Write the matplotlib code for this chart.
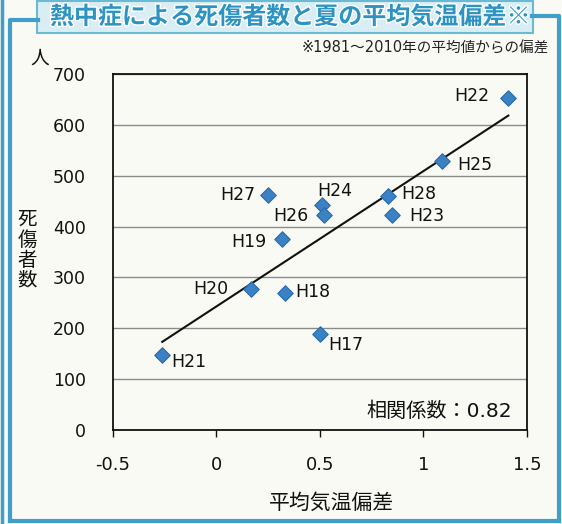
import matplotlib
matplotlib.use("Agg")
import matplotlib.pyplot as plt
from matplotlib.patches import Rectangle
import matplotlib.patheffects as pe
import numpy as np

plt.rcParams['font.family'] = ['DejaVu Sans', 'Noto Sans CJK JP']

# Data
years = ["H17", "H18", "H19", "H20", "H21", "H22", "H23", "H24", "H25", "H26", "H27", "H28"]
temp_dev = [0.50, 0.33, 0.32, 0.17, -0.26, 1.41, 0.85, 0.51, 1.09, 0.52, 0.25, 0.83]
casualties = [188, 269, 376, 277, 147, 653, 422, 443, 528, 422, 462, 461]
x_ticks = [-0.5, 0, 0.5, 1, 1.5]
x_tick_labels = ["-0.5", "0", "0.5", "1", "1.5"]
y_ticks = [0, 100, 200, 300, 400, 500, 600, 700]
corr_text = "相関係数：0.82"
title = "熱中症による死傷者数と夏の平均気温偏差※"
note = "※1981～2010年の平均値からの偏差"
# label offsets (points) for each year label
offsets = {"H17": (6, -8), "H18": (8, 1), "H19": (-37, -2.4), "H20": (-42, 0),
           "H21": (6.7, -5), "H22": (-39, 1.2), "H23": (12.5, -0.7), "H24": (-3, 9.6),
           "H25": (10.8, -2.4), "H26": (-36.5, -0.7), "H27": (-34, 0), "H28": (9.4, 1)}

W, H = 562, 524
fig = plt.figure(figsize=(W/100, H/100), dpi=100)
bg = '#fafaf5'
fig.patch.set_facecolor(bg)

def fx(px):
    return px / W
def fy(py):
    return 1 - py / H

# outer frame lines
teal = '#3f9fc8'
fig.add_artist(plt.Line2D([fx(1.5), fx(1.5)], [fy(0), fy(524)], color=teal, lw=2.5))
fig.add_artist(plt.Line2D([fx(9.5), fx(9.5), fx(38)], [fy(521), fy(20), fy(20)], color=teal, lw=3))
fig.add_artist(plt.Line2D([fx(9.5), fx(559)], [fy(521), fy(521)], color=teal, lw=3))
fig.add_artist(plt.Line2D([fx(532), fx(559), fx(559)], [fy(16), fy(16), fy(521)], color=teal, lw=3))

# title box
fig.add_artist(Rectangle((fx(37), fy(33)), fx(533) - fx(37), fy(1) - fy(33),
                         transform=fig.transFigure, facecolor='#d9eef4',
                         edgecolor='#6bbad3', lw=1.5))
fig.text(fx(290), fy(17), title, ha='center', va='center', fontsize=17.3,
         fontweight='bold', color='#2c93c2', family=['Noto Sans CJK JP'],
         path_effects=[pe.withStroke(linewidth=2, foreground='white')])

fig.text(fx(549), fy(48), note, ha='right', va='center', fontsize=10.5,
         color='#222222', family=['DejaVu Sans', 'Noto Sans CJK JP'])

ax = fig.add_axes([fx(112.5), fy(430), fx(527) - fx(112.5), fy(74) - fy(430)])
ax.set_facecolor(bg)
ax.set_xlim(-0.5, 1.5)
ax.set_ylim(0, 700)
ax.set_xticks(x_ticks)
ax.set_xticklabels(x_tick_labels)
ax.set_yticks(y_ticks)
ax.grid(axis='y', color='#8a8a8a', lw=1)
ax.set_axisbelow(True)
for s in ax.spines.values():
    s.set_color('#111111')
    s.set_linewidth(1.3)
ax.tick_params(axis='y', length=0, labelsize=12.5, pad=19, colors='#111111')
ax.tick_params(axis='x', length=5, width=1, direction='out', labelsize=13, pad=14, colors='#111111')

# regression line
xs = np.array(temp_dev)
ys = np.array(casualties)
m, b = np.polyfit(xs, ys, 1)
xl = np.array([xs.min(), xs.max()])
ax.plot(xl, m * xl + b, color='#111111', lw=1.5, zorder=3)

ax.scatter(xs, ys, marker='D', s=62, color='#3b82c4', edgecolor='#2a68a8',
           linewidth=0.8, zorder=4)

for yr, x, y in zip(years, temp_dev, casualties):
    dx, dy = offsets[yr]
    ax.annotate(yr, (x, y), xytext=(dx, dy), textcoords='offset points',
                ha='left', va='center', fontsize=12.5, color='#111111', zorder=5)

ax.text(0.965, 0.052, corr_text, transform=ax.transAxes, ha='right', va='center',
        fontsize=14.5, color='#111111', family=['DejaVu Sans', 'Noto Sans CJK JP'])

fig.text(fx(332), fy(503), "平均気温偏差", ha='center', va='center', fontsize=15,
         color='#111111', family=['Noto Sans CJK JP'])
fig.text(fx(27), fy(250), "死\n傷\n者\n数", ha='center', va='center', fontsize=14,
         color='#111111', family=['Noto Sans CJK JP'], linespacing=0.95)
fig.text(fx(40), fy(58), "人", ha='center', va='center', fontsize=13.5,
         color='#111111', family=['Noto Sans CJK JP'])

fig.savefig("out.png", dpi=100, facecolor=fig.get_facecolor())
